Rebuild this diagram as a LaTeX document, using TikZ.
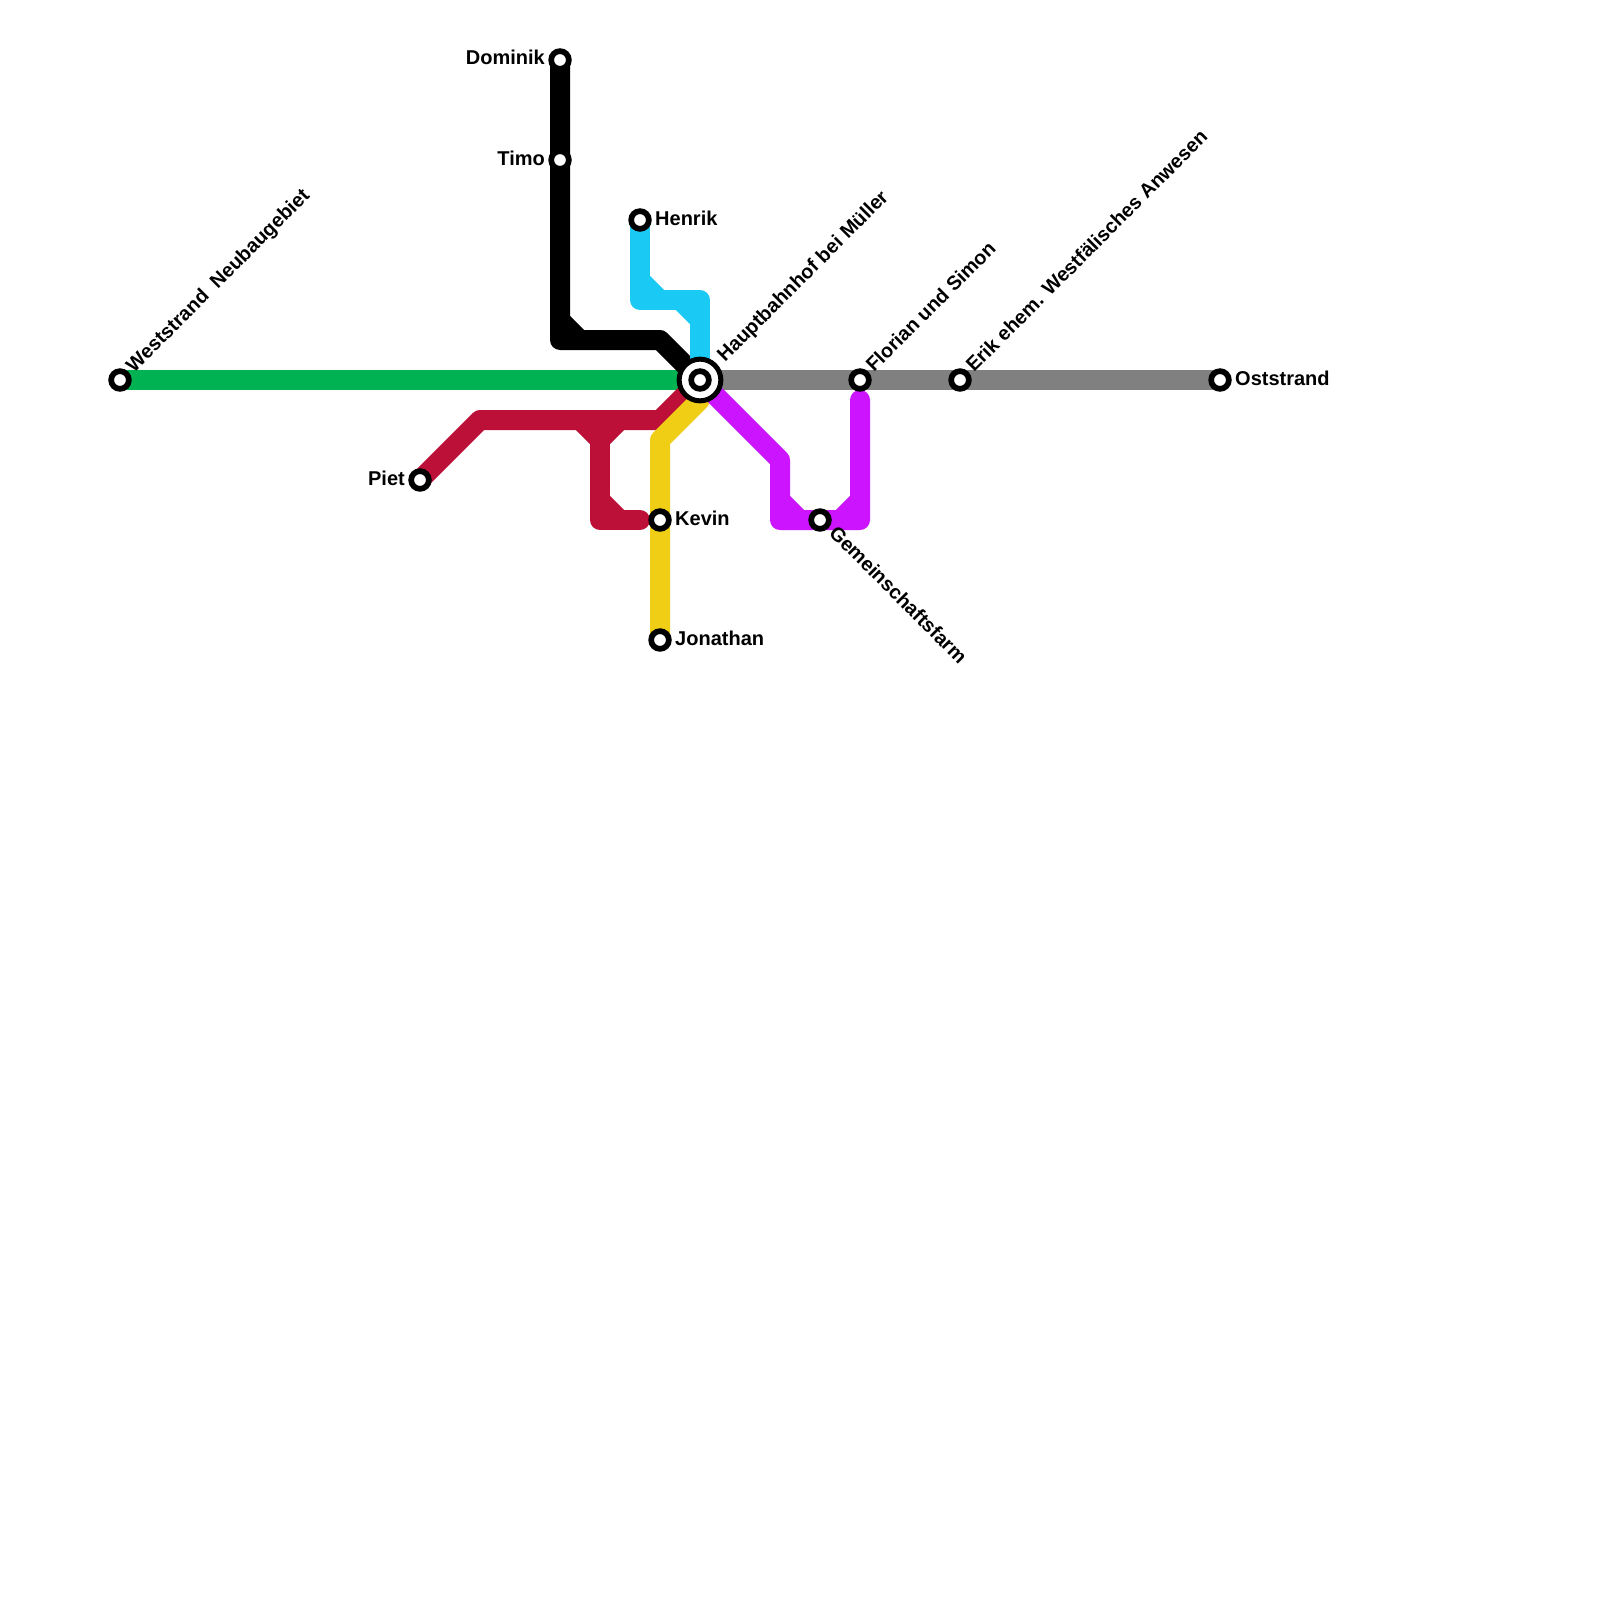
\documentclass[tikz,border=0pt]{standalone}
\usepackage{fontspec}
\setmainfont{Liberation Sans}
\pgfdeclarelayer{lines}
\pgfsetlayers{lines,main}
\definecolor{cgreen}{HTML}{00B251}
\definecolor{cgray}{HTML}{808080}
\definecolor{cred}{HTML}{BD1038}
\definecolor{cyellow}{HTML}{F0CE15}
\definecolor{cpurple}{HTML}{CC14FF}
\definecolor{ccyan}{HTML}{1BC9F5}
\newcommand{\chamf}[5]{\fill[#5] ({#1+(#3)*5},{#2+(#4)*29.14}) -- ({#1+(#3)*29.14},{#2+(#4)*5}) -- ({#1+(#3)*5},{#2+(#4)*5}) -- cycle;}
\tikzset{
  metro/.style={line width=20pt,line join=round,line cap=round},
  station/.style={circle,draw=black,fill=white,line width=5.7pt,inner sep=0pt,minimum size=17.7pt},
  hubring/.style={circle,draw=black,fill=white,line width=5pt,inner sep=0pt,minimum size=41.7pt},
  lab/.style={font=\bfseries\fontsize{20}{24}\selectfont,inner sep=0pt,text=black},
  labr/.style={lab,font=\bfseries\fontsize{19.8}{24}\selectfont},
  labne/.style={labr,anchor=base west,rotate=45},
  labse/.style={labr,anchor=base west,rotate=-45},
  labe/.style={lab,anchor=base west},
  labw/.style={lab,anchor=base east},
}
\begin{document}
\begin{tikzpicture}[x=1pt,y=-1pt]
\useasboundingbox (0,0) rectangle (1600,1600);
% stations
\node[hubring] (hubo) at (700,380) {};
\node[station] (hub) at (700,380) {};
\node[station] (west) at (120,380) {};
\node[station] (piet) at (420,480) {};
\node[station] (dominik) at (560,60) {};
\node[station] (timo) at (560,160) {};
\node[station] (henrik) at (640,220) {};
\node[station] (kevin) at (660,520) {};
\node[station] (jonathan) at (660,640) {};
\node[station] (gemein) at (820,520) {};
\node[station] (florian) at (860,380) {};
\node[station] (erik) at (960,380) {};
\node[station] (ost) at (1220,380) {};
% labels
\node[labne] (lwest) at (134,373.5) {Weststrand\ \ Neubaugebiet};
\node[labne] (lhub) at (725,363) {Hauptbahnhof bei Müller};
\node[labne] (lflorian) at (874,373) {Florian und Simon};
\node[labne] (lerik) at (974,373) {Erik ehem. Westfälisches Anwesen};
\node[labse] (lgemein) at (828,534) {Gemeinschaftsfarm};
\node[labw] (lpiet) at (405,485) {Piet};
\node[labw] (ldominik) at (545,65) {Dominik};
\node[labw] (ltimo) at (545,165) {Timo};
\node[labe] (lhenrik) at (655,225) {Henrik};
\node[labe] (lkevin) at (675,525) {Kevin};
\node[labe] (ljonathan) at (675,645) {Jonathan};
\node[labe] (lost) at (1235,385) {Oststrand};
% lines
\begin{pgfonlayer}{lines}
\fill[white] (0,0) rectangle (1600,1600);
\draw[metro,cgreen] (west.center) -- (hub.center);
\draw[metro,cgray] (hub.center) -- (ost.center);
\draw[metro,black] (dominik.center) -- (560,340) -- (660,340) -- (hub.center);
\chamf{560}{340}{1}{-1}{black}
\draw[metro,ccyan] (henrik.center) -- (640,300) -- (700,300) -- (hub.center);
\chamf{640}{300}{1}{-1}{ccyan}
\chamf{700}{300}{-1}{1}{ccyan}
\draw[metro,cred] (piet.center) -- (480,420) -- (660,420) -- (hub.center);
\draw[metro,cred] (600,420) -- (600,520) -- (640,520);
\chamf{600}{420}{-1}{1}{cred}
\chamf{600}{420}{1}{1}{cred}
\chamf{600}{520}{1}{-1}{cred}
\draw[metro,cyellow] (jonathan.center) -- (660,440) -- (700,400);
\draw[metro,cpurple] (hub.center) -- (780,460) -- (780,520) -- (860,520) -- (860,400);
\chamf{780}{520}{1}{-1}{cpurple}
\chamf{860}{520}{-1}{-1}{cpurple}
\end{pgfonlayer}
\end{tikzpicture}
\end{document}
